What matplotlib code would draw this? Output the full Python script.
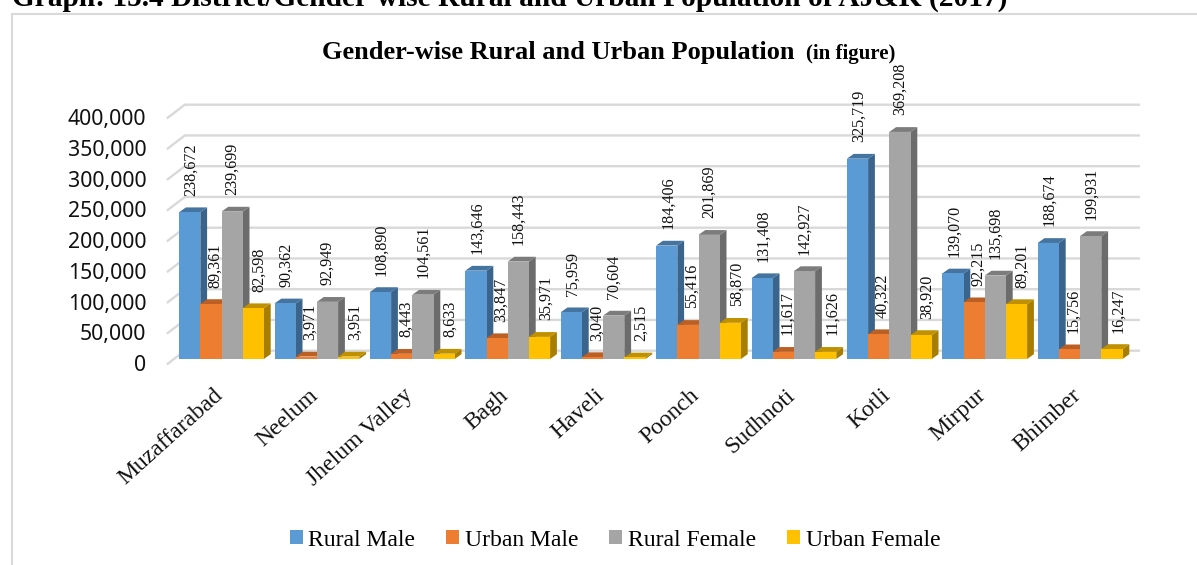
import matplotlib
matplotlib.use('Agg')
import matplotlib.pyplot as plt
from matplotlib.patches import Polygon, Rectangle

districts = ['Muzaffarabad', 'Neelum', 'Jhelum Valley', 'Bagh', 'Haveli', 'Poonch', 'Sudhnoti', 'Kotli', 'Mirpur', 'Bhimber']
rural_male = [238672, 90362, 108890, 143646, 75959, 184406, 131408, 325719, 139070, 188674]
urban_male = [89361, 3971, 8443, 33847, 3040, 55416, 11617, 40322, 92215, 15756]
rural_female = [239699, 92949, 104561, 158443, 70604, 201869, 142927, 369208, 135698, 199931]
urban_female = [82598, 3951, 8633, 35971, 2515, 58870, 11626, 38920, 89201, 16247]
y_ticks = [0, 50000, 100000, 150000, 200000, 250000, 300000, 350000, 400000]

names = ['Rural Male', 'Urban Male', 'Rural Female', 'Urban Female']
series = [rural_male, urban_male, rural_female, urban_female]
front = ['#5B9BD5', '#ED7D31', '#A5A5A5', '#FFC000']
side = ['#3A648C', '#A65A22', '#6C6C6C', '#A87E00']
top = ['#44749F', '#BC5F24', '#7C7C7C', '#BF9000']
label_dx = [1, 4, 0, 6]

W, H = 1197, 565
plt.rcParams['font.family'] = ['Liberation Serif', 'DejaVu Serif']

fig = plt.figure(figsize=(W / 100, H / 100), dpi=100)
# axes = front plane of the bars, y=0 at pixel 359, x pitch 95.4 px per group
px_per_group = 95.4
left = 221.5 - 0.5 * px_per_group
ax = fig.add_axes([left / W, (H - 359) / H, 10 * px_per_group / W, 246 / H])
ax.set_xlim(-0.5, 9.5)
ax.set_ylim(0, 400000)
ax.axis('off')

px_x = 1 / px_per_group      # one pixel in group units
px_y = 400000 / 246          # one pixel in value units
bar_w = 21.2 * px_x
dep_x = 6.8 * px_x
dep_y = 4.8 * px_y

# chart frame, right and bottom sides fall outside the picture
fig.add_artist(Rectangle((12 / W, -0.05), 1.1, 1.05 - 14 / H, fill=False, ec='#D9D9D9', lw=1.5, transform=fig.transFigure))

# back wall gridlines with short diagonal on the left
wall_y = 8.3 * px_y
for v in y_ticks:
    x0 = -0.5 + 11 * px_x
    x1 = 9.5 + 11 * px_x
    ax.plot([x0 - 17 * px_x, x0, x1], [v + wall_y - 13 * px_y, v + wall_y, v + wall_y],
            color='#D9D9D9', lw=1.7, clip_on=False, zorder=1, solid_joinstyle='miter')
    ax.text(-0.5 - 27.5 * px_x, v + wall_y - 15 * px_y, format(v, ','), ha='right', va='center',
            fontsize=15.3, family='Noto Sans', color='#111111', clip_on=False)

for s in range(4):
    offs = (s - 1.5) * bar_w
    for i, v in enumerate(series[s]):
        x = i + offs - bar_w / 2
        z = 3 + i * 10 + s
        ax.add_patch(Polygon([(x + bar_w, 0), (x + bar_w + dep_x, dep_y), (x + bar_w + dep_x, v + dep_y), (x + bar_w, v)],
                             fc=side[s], ec='none', zorder=z, clip_on=False))
        ax.add_patch(Polygon([(x, v), (x + dep_x, v + dep_y), (x + bar_w + dep_x, v + dep_y), (x + bar_w, v)],
                             fc=top[s], ec='none', zorder=z, clip_on=False))
        ax.bar(i + offs, v, width=bar_w, color=front[s], zorder=z + 0.5, clip_on=False)
        ax.annotate(format(v, ','), (i + offs, v), xytext=(label_dx[s] * 0.72, 16.5 * 0.72), textcoords='offset points',
                    rotation=90, ha='center', va='bottom', fontsize=11.6, color='#111111', zorder=500, annotation_clip=False)

for i, d in enumerate(districts):
    ax.annotate(d, (i, 0), xytext=(-6.5, -18.5), textcoords='offset points', rotation=42, ha='right', va='top',
                rotation_mode='anchor', fontsize=17, color='#111111', annotation_clip=False)

# titles, the top heading is cut off by the picture edge as in the source
fig.text(12 / W, 1 - 5.5 / H, 'Graph: 15.4 District/Gender-wise Rural and Urban Population of AJ&K (2017)', fontsize=21.2, fontweight='bold', va='baseline', ha='left', color='black')
fig.text(322 / W, 1 - 53 / H, 'Gender-wise Rural and Urban Population', fontsize=19, fontweight='bold', va='center', ha='left', color='black')
fig.text(806 / W, 1 - 54 / H, '(in figure)', fontsize=15, fontweight='bold', va='center', ha='left', color='black')

# legend
handles = [Rectangle((0, 0), 1, 1, fc=c, ec='none') for c in front]
fig.legend(handles, names, loc='center', bbox_to_anchor=(615 / W, 1 - 540 / H), ncol=4, frameon=False, fontsize=17,
           handlelength=0.55, handleheight=0.55, handletextpad=0.25, columnspacing=1.3)

fig.savefig('out.png', dpi=100)
